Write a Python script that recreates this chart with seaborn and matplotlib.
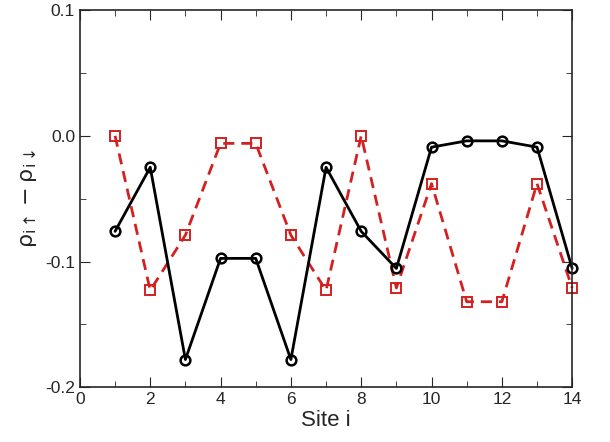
import numpy as np
import pandas as pd
import matplotlib
matplotlib.use("Agg")
import matplotlib.pyplot as plt
from matplotlib.ticker import MultipleLocator
import seaborn as sns

# Données
sites = list(range(1, 15))
noir = [-0.076, -0.025, -0.178, -0.0975, -0.0975, -0.178, -0.025,
        -0.076, -0.1055, -0.009, -0.004, -0.004, -0.009, -0.1055]
rouge = [0.0, -0.123, -0.079, -0.006, -0.006, -0.079, -0.123,
         0.0, -0.121, -0.038, -0.132, -0.132, -0.038, -0.121]

df = pd.DataFrame({"Site": sites, "noir": noir, "rouge": rouge})

sns.set_style("ticks")
plt.rcParams['font.family'] = ['Liberation Sans', 'DejaVu Sans']

fig = plt.figure(figsize=(6.1, 4.42), dpi=100)
ax = fig.add_axes([0.131, 0.124, 0.807, 0.853])

sns.lineplot(data=df, x="Site", y="rouge", ax=ax, color="#d42020",
             linestyle=(0, (4, 2.5)), linewidth=2, marker="s", markersize=7,
             markerfacecolor="none", markeredgecolor="#d42020", markeredgewidth=1.4,
             clip_on=False)
sns.lineplot(data=df, x="Site", y="noir", ax=ax, color="black",
             linewidth=2, marker="o", markersize=7,
             markerfacecolor="none", markeredgecolor="black", markeredgewidth=1.8,
             clip_on=False)

ax.set_xlim(0, 14)
ax.set_ylim(-0.2, 0.1)
ax.xaxis.set_major_locator(MultipleLocator(2))
ax.xaxis.set_minor_locator(MultipleLocator(1))
ax.yaxis.set_major_locator(MultipleLocator(0.1))
ax.yaxis.set_minor_locator(MultipleLocator(0.05))
ax.tick_params(which="both", direction="in", top=True, right=True, labelsize=12.5)
ax.tick_params(which="major", length=7)
ax.tick_params(which="minor", length=4)
ax.set_xticklabels([f"{int(v)}" for v in ax.get_xticks()])
ax.set_yticks([-0.2, -0.1, 0.0, 0.1])
ax.set_yticklabels(["-0.2", "-0.1", "0.0", "0.1"])
for s in ax.spines.values():
    s.set_linewidth(1.2)

ax.set_xlabel("Site i", fontsize=16, labelpad=2)
ax.set_ylabel(r"$\mathrm{\rho_{i\uparrow} - \rho_{i\downarrow}}$", fontsize=16, labelpad=4)

fig.savefig("out.png", dpi=100)
